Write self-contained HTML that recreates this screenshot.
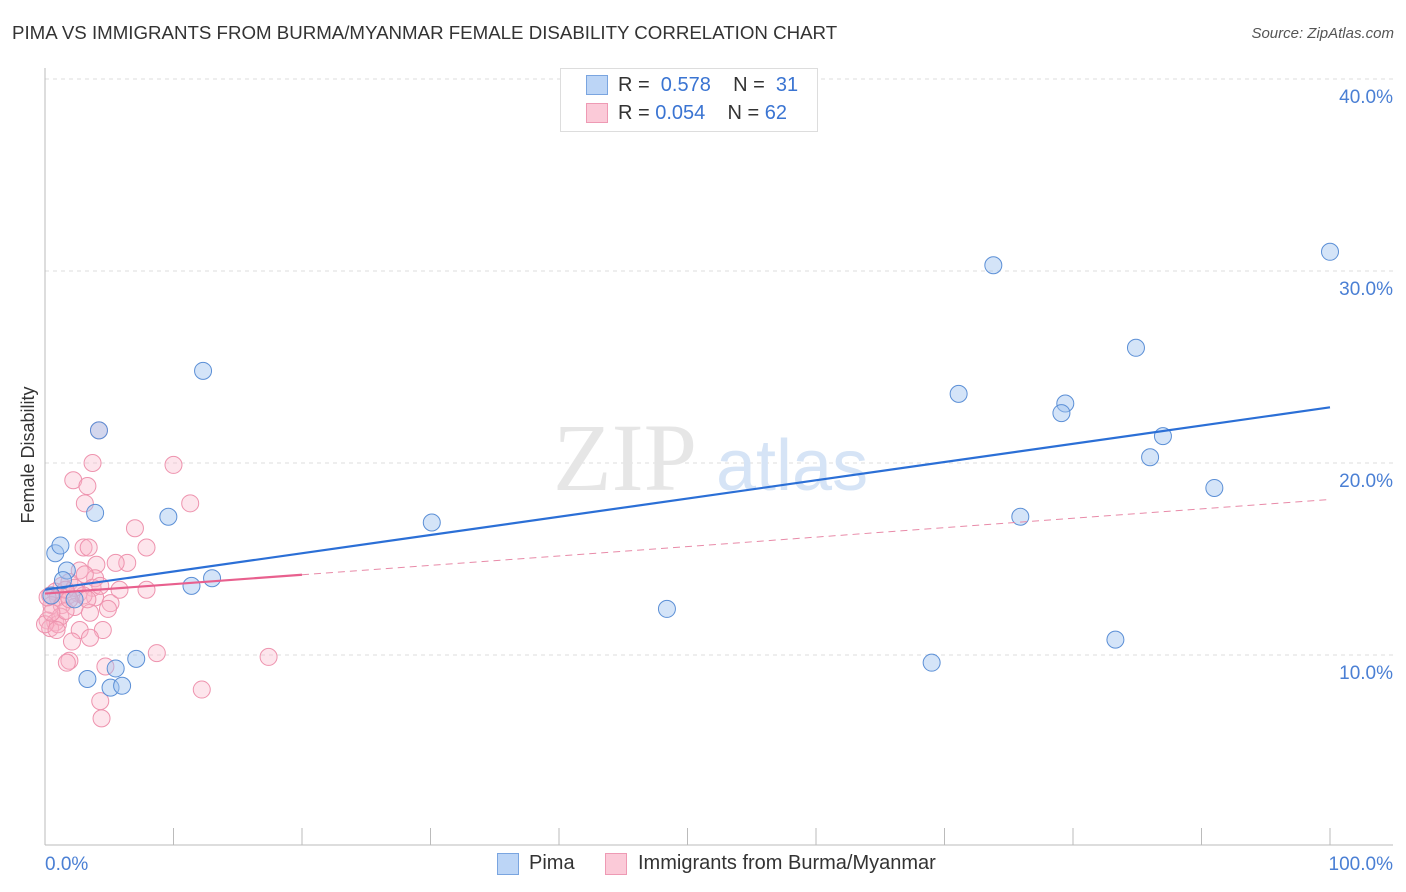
<!DOCTYPE html>
<html><head><meta charset="utf-8"><style>
body{margin:0;background:#fff;font-family:"Liberation Sans",sans-serif;}
#wrap{position:relative;width:1406px;height:892px;overflow:hidden}
.t{position:absolute;white-space:nowrap}
</style></head><body><div id="wrap">
<div class="t" style="left:12px;top:22px;font-size:18.7px;color:#333">PIMA VS IMMIGRANTS FROM BURMA/MYANMAR FEMALE DISABILITY CORRELATION CHART</div>
<div class="t" style="right:12px;top:25px;font-size:15px;color:#555;font-style:italic">Source: ZipAtlas.com</div>
<svg id="svg" width="1406" height="892" style="position:absolute;left:0;top:0"></svg>
</div>
<script>
const blueX=[0.8,1.2,1.7,2.3,3.9,4.2,3.3,5.1,5.5,6.0,7.1,9.6,11.4,12.3,13.0,30.1,48.4,69.0,73.8,71.1,75.9,79.4,79.1,84.9,86.0,87.0,91.0,83.3,100,0.5,1.4];
const blueY=[15.3,15.7,14.4,12.9,17.4,21.7,8.75,8.3,9.3,8.4,9.8,17.2,13.6,24.8,14.0,16.9,12.4,9.6,30.3,23.6,17.2,23.1,22.6,26.0,20.3,21.4,18.7,10.8,31.0,13.1,13.9];
const pinkX=[4.2,3.7,10.0,2.2,3.3,3.1,11.3,7.0,7.9,3.0,3.4,6.4,5.5,4.0,2.7,3.9,3.1,1.3,1.9,7.9,3.7,2.6,0.8,0.4,1.0,1.8,2.3,5.1,3.9,4.9,3.5,0.5,1.3,0.2,0.8,0.4,1.0,0,2.7,4.5,2.1,3.5,8.7,17.4,1.9,1.7,4.7,12.2,4.3,4.4,1.2,1.6,3.0,4.3,5.8,0.5,2.3,3.3,1.6,0.2,0.9,1.9];
const pinkY=[21.7,20.0,19.9,19.1,18.8,17.9,17.9,16.6,15.6,15.6,15.6,14.8,14.8,14.7,14.4,14.0,14.2,13.6,13.8,13.4,13.5,13.2,13.3,13.1,13.0,13.1,12.5,12.7,13.0,12.4,12.2,12.6,12.6,11.8,11.7,11.4,11.6,11.6,11.3,11.3,10.7,10.9,10.1,9.9,9.7,9.6,9.4,8.2,7.6,6.7,12.0,12.3,13.1,13.6,13.4,12.2,13.5,12.9,13.4,13.0,11.3,12.9];
const blueTrend=[13.4,22.9];
const pinkTrend=[13.2,18.1];
const yTicks=[10,20,30,40];
const yTickLabels=["10.0%","20.0%","30.0%","40.0%"];
const xTicks=[0,10,20,30,40,50,60,70,80,90,100];

const X=v=>45+v*12.85, Y=v=>847-v*19.2;
const s=document.getElementById('svg'),NS='http://www.w3.org/2000/svg';
function mk(t,a){const e=document.createElementNS(NS,t);for(const k in a)e.setAttribute(k,a[k]);s.appendChild(e);return e;}
let e;
yTicks.forEach((v,i)=>{
 e=mk('line',{x1:45,x2:1393,y1:Y(v),y2:Y(v),stroke:'#ddd','stroke-dasharray':'4,4'});
 
 
 e=mk('text',{x:1393,y:Y(v)+24,'text-anchor':'end','font-size':19,fill:'#4a7fd4','font-family':'Liberation Sans'});
 e.textContent=yTickLabels[i];
 
 
});
e=mk('line',{x1:45,x2:45,y1:68,y2:845,stroke:'#bbb'});


e=mk('line',{x1:45,x2:1393,y1:845,y2:845,stroke:'#bbb'});


xTicks.forEach(v=>{
 e=mk('line',{x1:X(v),x2:X(v),y1:828,y2:845,stroke:'#bbb'});
 
 
});
e=mk('text',{x:X(0),y:870,'font-size':19,fill:'#4a7fd4','font-family':'Liberation Sans'});e.textContent='0.0%';


e=mk('text',{x:1393,y:870,'text-anchor':'end','font-size':19,fill:'#4a7fd4','font-family':'Liberation Sans'});e.textContent='100.0%';


e=mk('text',{x:34,y:455,'text-anchor':'middle','font-size':18,fill:'#333','font-family':'Liberation Sans',transform:'rotate(-90 34 455)'});e.textContent='Female Disability';


e=mk('text',{x:553,y:490,'font-size':96,fill:'#e6e6e6','font-family':'Liberation Serif'});e.textContent='ZIP';


e=mk('text',{x:716,y:490,'font-size':72,fill:'#d6e4f6','font-family':'Liberation Sans'});e.textContent='atlas';


pinkX.forEach((v,i)=>{
 e=mk('circle',{cx:X(v),cy:Y(pinkY[i]),r:8.5,fill:'rgba(248,180,200,0.35)',stroke:'#ee93ae','stroke-width':1});
 
 
});
blueX.forEach((v,i)=>{
 e=mk('circle',{cx:X(v),cy:Y(blueY[i]),r:8.5,fill:'rgba(160,196,240,0.45)',stroke:'#5b8fd6','stroke-width':1});
 
 
});
const pAt=v=>pinkTrend[0]+(pinkTrend[1]-pinkTrend[0])*v/100;
e=mk('line',{x1:X(20),y1:Y(pAt(20)),x2:X(100),y2:Y(pAt(100)),stroke:'#e88aa8','stroke-width':1,'stroke-dasharray':'7,5'});


e=mk('line',{x1:X(0),y1:Y(pAt(0)),x2:X(20),y2:Y(pAt(20)),stroke:'#e8608e','stroke-width':2.2});


e=mk('line',{x1:X(0),y1:Y(blueTrend[0]),x2:X(100),y2:Y(blueTrend[1]),stroke:'#2b6fd6','stroke-width':2.2});


</script>
<div class="t" style="left:560px;top:68px;width:256px;height:62px;border:1px solid #ddd;background:#fff"></div>
<div class="t" style="left:586px;top:75px;width:20px;height:18px;background:#bcd5f6;border:1px solid #7aa5e0"></div>
<div class="t" style="left:618px;top:74px;font-size:20px;color:#333">R = <span style="color:#3a74d2">&nbsp;0.578</span>&nbsp;&nbsp;&nbsp;&nbsp;N = <span style="color:#3a74d2">&nbsp;31</span></div>
<div class="t" style="left:586px;top:103px;width:20px;height:18px;background:#fbcad8;border:1px solid #ee9ab4"></div>
<div class="t" style="left:618px;top:102px;font-size:20px;color:#333">R = <span style="color:#3a74d2">0.054</span>&nbsp;&nbsp;&nbsp;&nbsp;N = <span style="color:#3a74d2">62</span></div>
<div class="t" style="left:497px;top:853px;width:20px;height:20px;background:#bcd5f6;border:1px solid #7aa5e0"></div>
<div class="t" style="left:529px;top:852px;font-size:20px;color:#333">Pima</div>
<div class="t" style="left:605px;top:853px;width:20px;height:20px;background:#fbcad8;border:1px solid #ee9ab4"></div>
<div class="t" style="left:638px;top:852px;font-size:20px;color:#333">Immigrants from Burma/Myanmar</div>
</body></html>
